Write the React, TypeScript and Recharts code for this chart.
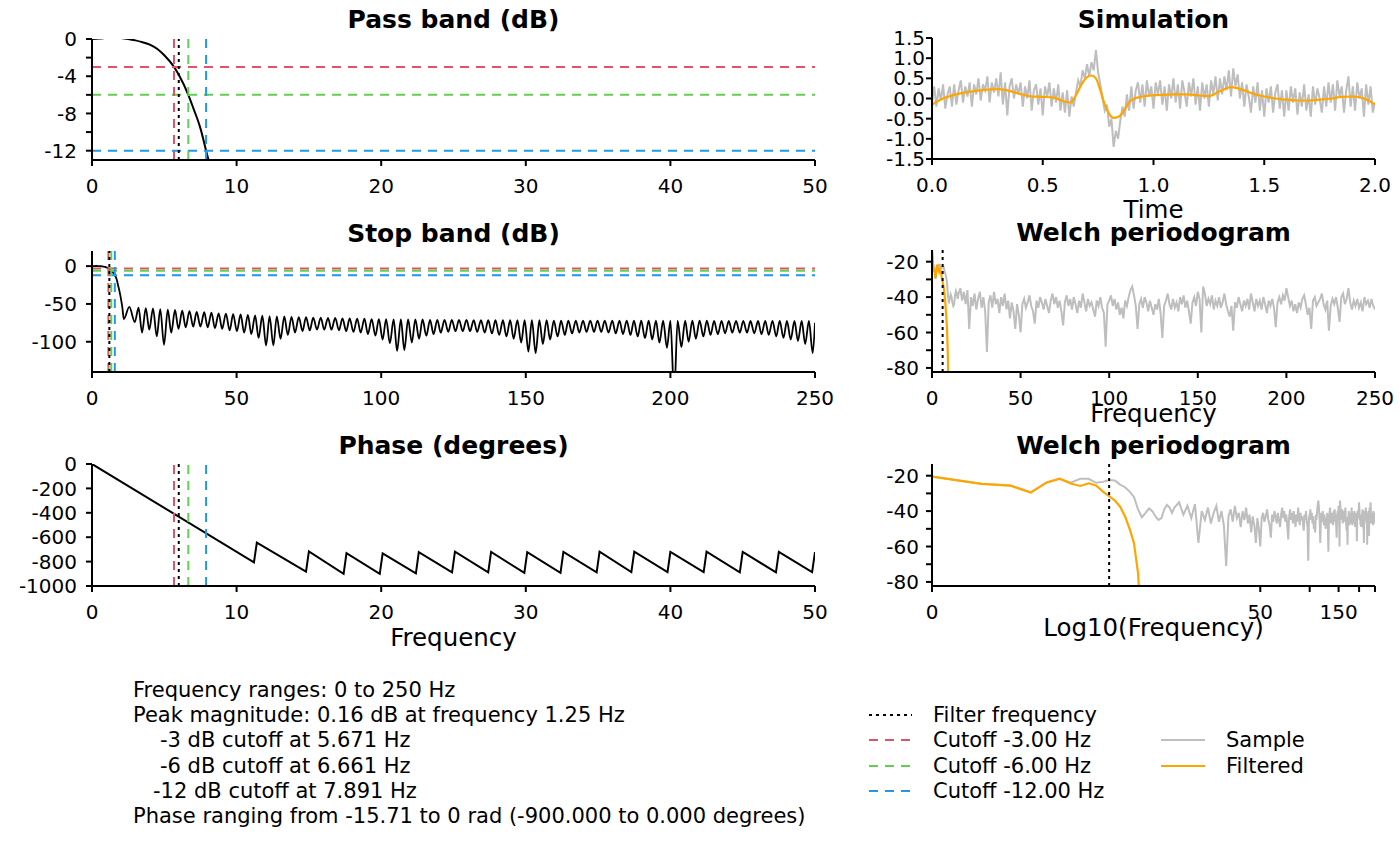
import React from 'react';
import { LineChart, Line, XAxis, YAxis, ReferenceLine } from 'recharts';

const FONT = 'DejaVu Sans, Verdana, sans-serif';
const RED = '#DF536B';
const GREEN = '#61D04F';
const BLUE = '#2297E6';
const GRAY = '#BEBEBE';
const ORANGE = '#FFA500';

// filter response, main lobe (Hz / dB)
const passFreq = [0, 0.5, 1.0, 1.25, 1.5, 2.0, 2.5, 3.0, 3.5, 4.0, 4.5, 5.0, 5.671, 6.0, 6.661, 7.0, 7.5, 7.891, 8.2, 8.6, 9.0, 9.5, 10.0, 10.5, 11.0];
const passDb = [0, 0.05, 0.13, 0.16, 0.15, 0.1, 0.0, -0.15, -0.35, -0.6, -1.05, -1.75, -3.0, -3.85, -6.0, -7.4, -9.6, -12.0, -14.0, -18.5, -25.0, -33.0, -43.0, -55.0, -70.0];

// stop band side lobes
const lobeFreq = [12.9,
  16.1, 18.6, 21.1, 23.6, 26.2, 28.7, 31.2, 33.7, 36.2, 38.8,
  41.3, 43.8, 46.3, 48.8, 51.4, 53.9, 56.4, 58.9, 61.4, 63.9,
  66.5, 69.0, 71.5, 74.0, 76.5, 79.1, 81.6, 84.1, 86.6, 89.1,
  91.7, 94.2, 96.7, 99.2, 101.7, 104.3, 106.8, 109.3, 111.8, 114.3,
  116.9, 119.4, 121.9, 124.4, 126.9, 129.5, 132.0, 134.5, 137.0, 139.5,
  142.1, 144.6, 147.1, 149.6, 152.1, 154.7, 157.2, 159.7, 162.2, 164.7,
  167.3, 169.8, 172.3, 174.8, 177.3, 179.9, 182.4, 184.9, 187.4, 189.9,
  192.5, 195.0, 197.5, 200.0, 202.5, 205.1, 207.6, 210.1, 212.6, 215.1,
  217.7, 220.2, 222.7, 225.2, 227.7, 230.3, 232.8, 235.3, 237.8, 240.3,
  242.9, 245.4, 247.9, 250.0];
const lobeDb = [-54,
  -55, -55.5, -56, -57, -57.5, -58, -59, -59.5, -60.5, -61,
  -61.5, -62.5, -63, -63.5, -64, -64.5, -65, -65.5, -66, -66.5,
  -66.5, -67, -67.5, -67.5, -68, -68, -68.5, -68.5, -69, -69,
  -69.5, -69.5, -70, -70, -70, -70.5, -70.5, -70.5, -70.5, -70.5,
  -71, -71, -71, -71, -71, -71, -71.5, -71.5, -71.5, -71.5,
  -71.5, -71.5, -71.5, -71.5, -71.5, -71.5, -71.5, -72, -72, -72,
  -72, -72, -72, -72, -72, -72, -72, -72, -72, -72,
  -72, -72, -72, -72, -72, -72, -72, -72, -72, -72.5,
  -72.5, -72.5, -72.5, -72.5, -72.5, -72.5, -72.5, -72.5, -72.5, -72.5,
  -72.5, -72.5, -72.5, -75];
const notchFreq = [
  14.8, 17.3, 19.8, 22.4, 24.9, 27.4, 29.9, 32.4, 35.0, 37.5,
  40.0, 42.5, 45.0, 47.6, 50.1, 52.6, 55.1, 57.6, 60.2, 62.7,
  65.2, 67.7, 70.2, 72.8, 75.3, 77.8, 80.3, 82.8, 85.4, 87.9,
  90.4, 92.9, 95.4, 98.0, 100.5, 103.0, 105.5, 108.0, 110.6, 113.1,
  115.6, 118.1, 120.6, 123.2, 125.7, 128.2, 130.7, 133.2, 135.8, 138.3,
  140.8, 143.3, 145.8, 148.4, 150.9, 153.4, 155.9, 158.4, 161.0, 163.5,
  166.0, 168.5, 171.0, 173.6, 176.1, 178.6, 181.1, 183.6, 186.2, 188.7,
  191.2, 193.7, 196.2, 198.8, 201.3, 203.8, 206.3, 208.8, 211.4, 213.9,
  216.4, 218.9, 221.4, 224.0, 226.5, 229.0, 231.5, 234.0, 236.6, 239.1,
  241.6, 244.1, 246.6, 249.2];
const notchDb = [
  -74, -88, -84, -93, -104, -88, -83, -81, -80, -80,
  -81, -82, -83, -85, -86, -88, -90, -95, -105, -105,
  -96, -91, -88, -86, -85, -84, -84, -84, -85, -86,
  -87, -88, -90, -92, -97, -102, -112, -111, -101, -96,
  -92, -90, -88, -87, -86, -86, -86, -87, -88, -89,
  -91, -93, -96, -101, -113, -115, -103, -97, -93, -91,
  -89, -88, -87, -87, -87, -88, -89, -90, -91, -93,
  -95, -97, -101, -108, -170, -107, -100, -96, -93, -91,
  -90, -89, -88, -88, -88, -89, -90, -91, -93, -95,
  -97, -99, -103, -115];

// phase (degrees)
const phaseFreq = [0, 11.2, 11.4, 14.8, 15.0, 17.4, 17.6, 19.9, 20.1, 22.4, 22.6, 24.9, 25.1, 27.4, 27.6, 29.9, 30.1, 32.4, 32.6, 34.9, 35.1, 37.3, 37.5, 39.8, 40.0, 42.3, 42.5, 44.8, 45.0, 47.3, 47.5, 49.8, 50.0];
const phaseDeg = [0, -806, -645, -882, -716, -900, -730, -900, -733, -896, -722, -888, -718, -888, -720, -893, -722, -893, -720, -888, -718, -886, -718, -886, -720, -886, -718, -888, -720, -888, -720, -886, -722];

// cutoffs
const cutoffHz = [5.671, 6.661, 7.891];
const cutoffDb = [-3, -6, -12];
const cutoffColor = [RED, GREEN, BLUE];
const filterHz = 6;

// simulation
const sampleTime = [
  0.00, 0.01, 0.02, 0.03, 0.04, 0.05, 0.06, 0.07, 0.08, 0.09,
  0.10, 0.11, 0.12, 0.13, 0.14, 0.15, 0.16, 0.17, 0.18, 0.19,
  0.20, 0.21, 0.22, 0.23, 0.24, 0.25, 0.26, 0.27, 0.28, 0.29,
  0.30, 0.31, 0.32, 0.33, 0.34, 0.35, 0.36, 0.37, 0.38, 0.39,
  0.40, 0.41, 0.42, 0.43, 0.44, 0.45, 0.46, 0.47, 0.48, 0.49,
  0.50, 0.51, 0.52, 0.53, 0.54, 0.55, 0.56, 0.57, 0.58, 0.59,
  0.60, 0.61, 0.62, 0.63, 0.64, 0.65, 0.66, 0.67, 0.68, 0.69,
  0.70, 0.71, 0.72, 0.73, 0.74, 0.75, 0.76, 0.77, 0.78, 0.79,
  0.80, 0.81, 0.82, 0.83, 0.84, 0.85, 0.86, 0.87, 0.88, 0.89,
  0.90, 0.91, 0.92, 0.93, 0.94, 0.95, 0.96, 0.97, 0.98, 0.99,
  1.00, 1.01, 1.02, 1.03, 1.04, 1.05, 1.06, 1.07, 1.08, 1.09,
  1.10, 1.11, 1.12, 1.13, 1.14, 1.15, 1.16, 1.17, 1.18, 1.19,
  1.20, 1.21, 1.22, 1.23, 1.24, 1.25, 1.26, 1.27, 1.28, 1.29,
  1.30, 1.31, 1.32, 1.33, 1.34, 1.35, 1.36, 1.37, 1.38, 1.39,
  1.40, 1.41, 1.42, 1.43, 1.44, 1.45, 1.46, 1.47, 1.48, 1.49,
  1.50, 1.51, 1.52, 1.53, 1.54, 1.55, 1.56, 1.57, 1.58, 1.59,
  1.60, 1.61, 1.62, 1.63, 1.64, 1.65, 1.66, 1.67, 1.68, 1.69,
  1.70, 1.71, 1.72, 1.73, 1.74, 1.75, 1.76, 1.77, 1.78, 1.79,
  1.80, 1.81, 1.82, 1.83, 1.84, 1.85, 1.86, 1.87, 1.88, 1.89,
  1.90, 1.91, 1.92, 1.93, 1.94, 1.95, 1.96, 1.97, 1.98, 1.99,
  2.00];
const sampleValue = [
  -0.12, 0.30, -0.20, 0.25, -0.05, 0.35, -0.25, 0.10, 0.30, -0.20,
  0.35, -0.15, 0.20, 0.45, -0.10, 0.30, 0.05, 0.40, -0.20, 0.35,
  0.10, 0.50, -0.05, 0.35, 0.20, 0.55, -0.10, 0.40, 0.15, 0.50,
  0.05, 0.65, -0.15, 0.40, -0.42, 0.30, 0.50, 0.00, 0.35, 0.10,
  0.40, -0.20, 0.30, 0.00, 0.45, -0.30, 0.20, 0.35, -0.15, 0.25,
  -0.42, 0.30, 0.05, 0.40, -0.20, 0.25, -0.10, 0.35, -0.30, 0.15,
  -0.35, 0.20, -0.45, 0.05, -0.20, 0.15, 0.45, 0.30, 0.70, 0.50,
  0.85, 0.55, 0.90, 0.70, 1.20, 0.65, 0.35, 0.00, -0.30, -0.15,
  -0.70, -0.50, -1.20, -0.80, -1.00, -0.55, -0.20, -0.45, 0.10, -0.30,
  0.30, -0.25, 0.20, 0.40, -0.10, 0.35, -0.20, 0.45, 0.05, 0.30,
  -0.25, 0.40, 0.10, 0.45, -0.15, 0.30, -0.30, 0.35, 0.00, 0.50,
  -0.10, 0.35, -0.25, 0.45, 0.15, -0.20, 0.40, 0.05, 0.50, -0.15,
  0.30, -0.30, 0.40, 0.00, 0.35, -0.20, 0.45, 0.10, 0.55, -0.05,
  0.50, 0.10, 0.55, 0.20, 0.70, 0.05, 0.75, 0.30, 0.60, 0.00,
  0.40, -0.20, 0.35, 0.05, -0.35, 0.30, -0.10, 0.40, -0.30, 0.20,
  -0.45, 0.25, -0.10, 0.30, -0.35, 0.15, 0.35, -0.25, 0.20, -0.45,
  0.20, -0.30, 0.30, -0.10, 0.25, -0.40, 0.15, -0.20, 0.35, -0.30,
  0.10, -0.45, 0.30, -0.15, 0.25, 0.00, -0.35, 0.30, -0.20, 0.40,
  -0.10, 0.35, -0.30, 0.45, 0.05, 0.30, -0.35, 0.20, 0.55, -0.20,
  0.30, -0.30, 0.40, 0.00, 0.25, -0.45, 0.35, -0.15, 0.30, -0.35,
  -0.10];
const filteredTime = [0, 0.05, 0.1, 0.15, 0.2, 0.25, 0.3, 0.35, 0.4, 0.45, 0.5, 0.55, 0.6, 0.625, 0.65, 0.675, 0.7, 0.72, 0.74, 0.76, 0.78, 0.8, 0.82, 0.84, 0.86, 0.88, 0.9, 0.95, 1.0, 1.05, 1.1, 1.15, 1.2, 1.25, 1.3, 1.35, 1.4, 1.45, 1.5, 1.55, 1.6, 1.65, 1.7, 1.75, 1.8, 1.85, 1.9, 1.95, 2.0];
const filteredValue = [-0.15, 0.0, 0.09, 0.15, 0.19, 0.22, 0.23, 0.19, 0.11, 0.05, 0.04, 0.02, -0.08, -0.1, 0.08, 0.35, 0.53, 0.57, 0.5, 0.2, -0.15, -0.38, -0.48, -0.46, -0.36, -0.18, -0.04, 0.05, 0.08, 0.09, 0.1, 0.1, 0.08, 0.06, 0.18, 0.28, 0.22, 0.12, 0.05, 0.0, -0.03, -0.05, -0.05, -0.03, 0.0, 0.04, 0.05, 0.0, -0.15];

// Welch periodogram (Hz / dB)
const welchFreq = [
  0, 0.5, 1.0, 1.5, 2.0, 2.5, 3.0, 3.5, 4.0, 4.5, 5.0, 5.5, 6.0, 6.5, 7.0, 7.5,
  8.0, 8.5, 9.0, 9.5, 10.0, 10.5, 11.0, 11.5, 12.0, 12.5, 13.0, 13.5, 14.0, 14.5, 15.0,
  16, 17, 18, 19, 20, 21, 22, 23, 24, 25, 26, 27, 28, 29, 30, 31, 32, 33, 34, 35,
  36, 37, 38, 39, 40, 41, 42, 43, 44, 45, 46, 47, 48, 49, 50,
  51, 52, 53, 54, 55, 56, 57, 58, 59, 60, 61, 62, 63, 64, 65, 66, 67, 68, 69, 70,
  71, 72, 73, 74, 75, 76, 77, 78, 79, 80, 81, 82, 83, 84, 85, 86, 87, 88, 89, 90,
  91, 92, 93, 94, 95, 96, 97, 98, 99, 100, 101, 102, 103, 104, 105, 106, 107, 108, 109, 110,
  111, 112, 113, 114, 115, 116, 117, 118, 119, 120, 121, 122, 123, 124, 125, 126, 127, 128, 129, 130,
  131, 132, 133, 134, 135, 136, 137, 138, 139, 140, 141, 142, 143, 144, 145, 146, 147, 148, 149, 150,
  151, 152, 153, 154, 155, 156, 157, 158, 159, 160, 161, 162, 163, 164, 165, 166, 167, 168, 169, 170,
  171, 172, 173, 174, 175, 176, 177, 178, 179, 180, 181, 182, 183, 184, 185, 186, 187, 188, 189, 190,
  191, 192, 193, 194, 195, 196, 197, 198, 199, 200, 201, 202, 203, 204, 205, 206, 207, 208, 209, 210,
  211, 212, 213, 214, 215, 216, 217, 218, 219, 220, 221, 222, 223, 224, 225, 226, 227, 228, 229, 230,
  231, 232, 233, 234, 235, 236, 237, 238, 239, 240, 241, 242, 243, 244, 245, 246, 247, 248, 249, 250];
const welchSample = [
  -13.5, -20.5, -24.6, -25.5, -29.5, -23.8, -21.7, -24.0, -21.8, -21.8, -24.0, -23.5, -22.5, -22.7, -25.0, -26.5,
  -29.0, -32.0, -39.0, -43.5, -41.0, -38.5, -40.0, -43.0, -45.0, -44.0, -39.0, -36.5, -38.0, -41.0, -38.0,
  -35, -42, -37, -44, -36, -58, -40, -45, -38, -47, -41, -37, -46, -40, -48, -71, -43, -39, -46, -37,
  -44, -41, -49, -40, -45, -38, -47, -42, -52, -43, -48, -58, -44, -50, -60,
  -44, -41, -46, -43, -39, -45, -48, -55, -42, -46, -40, -43, -47, -41, -45, -49, -42, -38, -44, -40,
  -46, -42, -48, -56, -43, -39, -45, -41, -47, -40, -44, -49, -42, -46, -38, -43, -48, -41, -45, -43,
  -47, -51, -42, -45, -40, -46, -49, -68, -44, -42, -39, -45, -41, -47, -43, -50, -46, -52, -42, -45,
  -40, -36, -34, -39, -45, -58, -44, -41, -46, -40, -43, -48, -42, -46, -50, -44, -47, -41, -49, -63,
  -45, -42, -38, -44, -47, -41, -46, -43, -48, -40, -44, -39, -46, -42, -48, -55, -43, -40, -45, -37,
  -41, -60, -34, -38, -45, -41, -44, -39, -47, -42, -45, -40, -46, -43, -38, -44, -48, -51, -45, -59,
  -43, -46, -40, -44, -48, -42, -45, -41, -47, -38, -43, -48, -41, -45, -42, -47, -40, -44, -49, -42,
  -45, -41, -46, -57, -43, -40, -44, -39, -42, -35, -40, -45, -42, -48, -44, -49, -43, -46, -41, -39,
  -44, -50, -46, -58, -42, -40, -45, -43, -41, -38, -44, -47, -42, -59, -45, -41, -44, -40, -46, -54,
  -40, -38, -44, -41, -35, -43, -47, -42, -45, -41, -46, -43, -48, -40, -44, -42, -46, -41, -45, -47];
const filtFreq = [0, 0.5, 1.0, 1.5, 2.0, 2.5, 3.0, 3.5, 4.0, 4.5, 5.0, 5.5, 6.0, 6.5, 7.0, 7.5, 8.0, 8.5, 9.0, 9.5];
const filtDb = [-13.4, -20.5, -24.6, -25.6, -29.5, -23.8, -21.7, -24.4, -25.8, -24.3, -25.5, -29.0, -31.5, -34.0, -37.5, -43.0, -50.0, -58.0, -75.0, -110.0];

const passTable = passFreq.map((f, i) => ({ f, v: passDb[i] }));
const stopTable = [
  ...passTable,
  ...lobeFreq.flatMap((f, i) =>
    i < notchFreq.length ? [{ f, v: lobeDb[i] }, { f: notchFreq[i], v: notchDb[i] }] : [{ f, v: lobeDb[i] }]
  ),
];
const phaseTable = phaseFreq.map((f, i) => ({ f, v: phaseDeg[i] }));
const sampleTable = sampleTime.map((f, i) => ({ f, v: sampleValue[i] }));
const filteredTable = filteredTime.map((f, i) => ({ f, v: filteredValue[i] }));
const welchTable = welchFreq.map((f, i) => ({ f, v: welchSample[i] }));
const welchFiltTable = filtFreq.map((f, i) => ({ f, v: filtDb[i] }));
const welchLogTable = welchTable.filter((d) => d.f > 0);
const welchFiltLogTable = welchFiltTable.filter((d) => d.f > 0);

const tickStyle = { fill: '#000', fontSize: 20, fontFamily: FONT };
const axisLine = { stroke: '#000', strokeWidth: 2 };
const tickLine = { stroke: '#000', strokeWidth: 2 };
const DASH = '9 7';
const DOT = '3 4';

const xProps = {
  type: 'number' as const,
  dataKey: 'f',
  interval: 0 as const,
  tick: tickStyle,
  tickSize: 6,
  tickMargin: 13,
  axisLine,
  tickLine,
  height: 40,
  allowDataOverflow: true,
};
const yBase = {
  type: 'number' as const,
  interval: 0 as const,
  tick: tickStyle,
  tickSize: 6,
  axisLine,
  tickLine,
  width: 92,
  allowDataOverflow: true,
};

const verticals = (withFilter: boolean) => [
  ...cutoffHz.map((f, i) => (
    <ReferenceLine key={'v' + i} x={f} stroke={cutoffColor[i]} strokeWidth={2} strokeDasharray={DASH} />
  )),
  withFilter ? <ReferenceLine key="vf" x={filterHz} stroke="#000" strokeWidth={2} strokeDasharray={DOT} /> : null,
];
const horizontals = () =>
  cutoffDb.map((d, i) => (
    <ReferenceLine key={'h' + i} y={d} stroke={cutoffColor[i]} strokeWidth={2} strokeDasharray={DASH} />
  ));

const pos = (left: number, top: number): React.CSSProperties => ({ position: 'absolute', left, top });

export default function App() {
  return (
    <div style={{ position: 'absolute', left: 0, top: 0, width: 1400, height: 866, background: '#fff', fontFamily: FONT }}>
      {/* Pass band */}
      <div style={pos(0, 0)}>
        <LineChart width={840} height={210} margin={{ top: 39, right: 25, bottom: 10, left: 0 }}>
          <XAxis {...xProps} domain={[0, 50]} ticks={[0, 10, 20, 30, 40, 50]} />
          <YAxis {...yBase} tickMargin={9} domain={[-13, 0]} ticks={[-12, -10, -8, -6, -4, -2, 0]}
            tickFormatter={(v: number) => (v % 4 === 0 ? String(v) : '')} />
          <Line data={passTable} dataKey="v" type="monotone" stroke="#000" strokeWidth={2} dot={false} activeDot={false} isAnimationActive={false} />
          {horizontals()}
          {verticals(true)}
        </LineChart>
      </div>

      {/* Stop band */}
      <div style={pos(0, 200)}>
        <LineChart width={840} height={222} margin={{ top: 51, right: 25, bottom: 10, left: 0 }}>
          <XAxis {...xProps} domain={[0, 250]} ticks={[0, 50, 100, 150, 200, 250]} />
          <YAxis {...yBase} tickMargin={9} domain={[-140, 20]} ticks={[-100, -50, 0]} />
          <Line data={stopTable} dataKey="v" type="monotone" stroke="#000" strokeWidth={1.8} dot={false} activeDot={false} isAnimationActive={false} />
          {horizontals()}
          {verticals(true)}
        </LineChart>
      </div>

      {/* Phase */}
      <div style={pos(0, 420)}>
        <LineChart width={840} height={216} margin={{ top: 44, right: 25, bottom: 10, left: 0 }}>
          <XAxis {...xProps} domain={[0, 50]} ticks={[0, 10, 20, 30, 40, 50]} />
          <YAxis {...yBase} tickMargin={9} domain={[-1000, 0]} ticks={[-1000, -800, -600, -400, -200, 0]} />
          <Line data={phaseTable} dataKey="v" type="linear" stroke="#000" strokeWidth={2} dot={false} activeDot={false} isAnimationActive={false} />
          {verticals(true)}
        </LineChart>
      </div>

      {/* Simulation */}
      <div style={pos(840, 0)}>
        <LineChart width={560} height={209} margin={{ top: 38, right: 25, bottom: 10, left: 0 }}>
          <XAxis {...xProps} domain={[0, 2]} ticks={[0, 0.5, 1, 1.5, 2]} tickFormatter={(v: number) => v.toFixed(1)} />
          <YAxis {...yBase} tickMargin={1} domain={[-1.5, 1.5]} ticks={[-1.5, -1, -0.5, 0, 0.5, 1, 1.5]}
            tickFormatter={(v: number) => v.toFixed(1)} />
          <Line data={sampleTable} dataKey="v" type="linear" stroke={GRAY} strokeWidth={2} dot={false} activeDot={false} isAnimationActive={false} />
          <Line data={filteredTable} dataKey="v" type="monotone" stroke={ORANGE} strokeWidth={2.2} dot={false} activeDot={false} isAnimationActive={false} />
        </LineChart>
      </div>

      {/* Welch periodogram, linear */}
      <div style={pos(840, 200)}>
        <LineChart width={560} height={222} margin={{ top: 50, right: 25, bottom: 10, left: 0 }}>
          <XAxis {...xProps} domain={[0, 250]} ticks={[0, 50, 100, 150, 200, 250]} />
          <YAxis {...yBase} tickMargin={7} domain={[-82.3, -13.4]} ticks={[-80, -70, -60, -50, -40, -30, -20]}
            tickFormatter={(v: number) => (v % 20 === 0 ? String(v) : '')} />
          <Line data={welchTable} dataKey="v" type="linear" stroke={GRAY} strokeWidth={2} dot={false} activeDot={false} isAnimationActive={false} />
          <Line data={welchFiltTable} dataKey="v" type="linear" stroke={ORANGE} strokeWidth={2.2} dot={false} activeDot={false} isAnimationActive={false} />
          <ReferenceLine x={filterHz} stroke="#000" strokeWidth={2} strokeDasharray={DOT} />
        </LineChart>
      </div>

      {/* Welch periodogram, log frequency */}
      <div style={pos(840, 420)}>
        <LineChart width={560} height={216} margin={{ top: 44, right: 25, bottom: 10, left: 0 }}>
          <XAxis {...xProps} scale="log" domain={[0.5, 250]} ticks={[0.5, 50, 100, 150, 200, 250]}
            tickFormatter={(v: number) => (v === 0.5 ? '0' : v === 50 || v === 150 ? String(v) : '')} />
          <YAxis {...yBase} tickMargin={7} domain={[-82.3, -13.4]} ticks={[-80, -70, -60, -50, -40, -30, -20]}
            tickFormatter={(v: number) => (v % 20 === 0 ? String(v) : '')} />
          <Line data={welchLogTable} dataKey="v" type="linear" stroke={GRAY} strokeWidth={2} dot={false} activeDot={false} isAnimationActive={false} />
          <Line data={welchFiltLogTable} dataKey="v" type="linear" stroke={ORANGE} strokeWidth={2.2} dot={false} activeDot={false} isAnimationActive={false} />
          <ReferenceLine x={filterHz} stroke="#000" strokeWidth={2} strokeDasharray={DOT} />
        </LineChart>
      </div>

      <svg width={1400} height={866} style={{ position: 'absolute', left: 0, top: 0, pointerEvents: 'none' }} fontFamily={FONT}>
        <g fontWeight="bold" fontSize={25} textAnchor="middle" fill="#000">
          <text x={453.5} y={28}>Pass band (dB)</text>
          <text x={453.5} y={242}>Stop band (dB)</text>
          <text x={453.5} y={454}>Phase (degrees)</text>
          <text x={1153.5} y={28}>Simulation</text>
          <text x={1153.5} y={241}>Welch periodogram</text>
          <text x={1153.5} y={454}>Welch periodogram</text>
        </g>
        <g fontSize={24.5} textAnchor="middle" fill="#000">
          <text x={453.5} y={646}>Frequency</text>
          <text x={1153.5} y={218}>Time</text>
          <text x={1153.5} y={422}>Frequency</text>
          <text x={1153.5} y={636}>Log10(Frequency)</text>
        </g>
        <g fontSize={21} fill="#000">
          <text x={133} y={697}>Frequency ranges: 0 to 250 Hz</text>
          <text x={133} y={722}>Peak magnitude: 0.16 dB at frequency 1.25 Hz</text>
          <text x={160} y={747}>-3 dB cutoff at 5.671 Hz</text>
          <text x={160} y={773}>-6 dB cutoff at 6.661 Hz</text>
          <text x={153} y={798}>-12 dB cutoff at 7.891 Hz</text>
          <text x={133} y={823}>Phase ranging from -15.71 to 0 rad (-900.000 to 0.000 degrees)</text>
        </g>
        <g strokeWidth={2}>
          <line x1={869} x2={912} y1={715} y2={715} stroke="#000" strokeDasharray={DOT} />
          <line x1={869} x2={912} y1={740} y2={740} stroke={RED} strokeDasharray={DASH} />
          <line x1={869} x2={912} y1={766} y2={766} stroke={GREEN} strokeDasharray={DASH} />
          <line x1={869} x2={912} y1={791} y2={791} stroke={BLUE} strokeDasharray={DASH} />
          <line x1={1161} x2={1205} y1={740} y2={740} stroke={GRAY} />
          <line x1={1161} x2={1205} y1={766} y2={766} stroke={ORANGE} />
        </g>
        <g fontSize={21} fill="#000">
          <text x={933} y={722}>Filter frequency</text>
          <text x={933} y={747}>Cutoff -3.00 Hz</text>
          <text x={933} y={773}>Cutoff -6.00 Hz</text>
          <text x={933} y={798}>Cutoff -12.00 Hz</text>
          <text x={1226} y={747}>Sample</text>
          <text x={1226} y={773}>Filtered</text>
        </g>
      </svg>
    </div>
  );
}
